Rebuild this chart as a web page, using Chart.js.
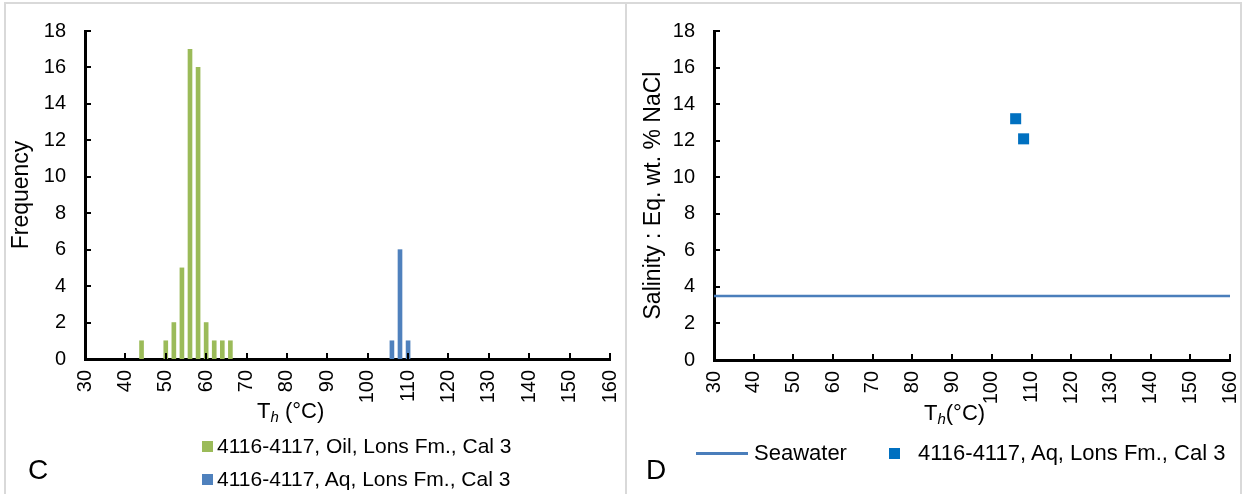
<!DOCTYPE html>
<html>
<head>
<meta charset="utf-8">
<script src="https://cdn.jsdelivr.net/npm/chart.js@4.4.1/dist/chart.umd.min.js"></script>
<style>
  body { margin: 0; width: 1244px; height: 494px; background: #fff; position: relative; overflow: hidden;
         font-family: "Liberation Sans", Arial, sans-serif; }
  .ln { position: absolute; background: #d9d9d9; }
  canvas { position: absolute; top: 0; }
  .txt { position: absolute; font-size: 21px; line-height: 20px; color: #000; white-space: nowrap; }
  .lg2 { font-size: 22px; }
  .big { font-size: 28px; line-height: 28px; }
  .sw { position: absolute; width: 11px; height: 11px; }
  sub { font-size: 15px; vertical-align: -4px; line-height: 0; }
</style>
</head>
<body>
<div class="ln" style="left:4px;top:2px;width:1238px;height:2px"></div>
<div class="ln" style="left:4px;top:2px;width:2px;height:492px"></div>
<div class="ln" style="left:625px;top:2px;width:2px;height:492px"></div>
<div class="ln" style="left:1240px;top:2px;width:2px;height:492px"></div>

<canvas id="histC" width="626" height="494" style="left:0"></canvas>
<canvas id="scatD" width="618" height="494" style="left:626px"></canvas>

<!-- panel C texts -->
<div class="txt lg2" style="left:257px;top:401px">T<sub><i>h</i></sub> (°C)</div>
<div class="sw" style="left:202px;top:441px;background:#9bbb59"></div>
<div class="txt" style="left:217px;top:436px">4116-4117, Oil, Lons Fm., Cal 3</div>
<div class="sw" style="left:202px;top:474px;background:#4f81bd"></div>
<div class="txt" style="left:217px;top:469px">4116-4117, Aq, Lons Fm., Cal 3</div>
<div class="txt big" style="left:28px;top:456px">C</div>

<!-- panel D texts -->
<div class="txt lg2" style="left:924px;top:403px">T<sub><i>h</i></sub>(°C)</div>
<div class="ln" style="left:696px;top:452px;width:52px;height:3px;background:#4a7ebb"></div>
<div class="txt lg2" style="left:754px;top:443px">Seawater</div>
<div class="sw" style="left:889px;top:448px;background:#0070c0"></div>
<div class="txt lg2" style="left:918px;top:443px">4116-4117, Aq, Lons Fm., Cal 3</div>
<div class="txt big" style="left:646px;top:456px">D</div>

<script>
// histogram C: homogenisation temperature bins and counts
const oilTemp = [44, 50, 52, 54, 56, 58, 60, 62, 64, 66];
const oilFreq = [1, 1, 2, 5, 17, 16, 2, 1, 1, 1];
const aqTemp = [106, 108, 110];
const aqFreq = [1, 6, 1];

// scatter D: salinity vs Th
const seawaterTemp = [30, 160];
const seawaterSal = [3.5, 3.5];
const incTemp = [106, 108];
const incSal = [13.2, 12.1];

const tempMin = 30, tempMax = 160, tempStep = 10;
const freqMax = 18, salMax = 18, yStep = 2;

Chart.defaults.font.family = "'Liberation Sans', Arial, sans-serif";
Chart.defaults.font.size = 20;
Chart.defaults.color = '#000';

const pts = (xs, ys) => xs.map((x, i) => ({ x: x, y: ys[i] }));

// excel-style tick marks pointing into the plot
const innerTicks = {
  id: 'innerTicks',
  afterDraw(chart) {
    const { ctx, chartArea: a, scales: { x, y } } = chart;
    ctx.save();
    ctx.strokeStyle = '#000';
    ctx.lineWidth = 2;
    ctx.beginPath();
    x.ticks.forEach(t => {
      const px = Math.round(x.getPixelForValue(t.value));
      ctx.moveTo(px, a.bottom);
      ctx.lineTo(px, a.bottom - 6);
    });
    y.ticks.forEach(t => {
      const py = Math.round(y.getPixelForValue(t.value));
      ctx.moveTo(a.left, py);
      ctx.lineTo(a.left + 6, py);
    });
    ctx.stroke();
    ctx.restore();
  }
};

function axes(yTitle, yMax, yWidth, xHeight, titlePad) {
  return {
    x: {
      type: 'linear', min: tempMin, max: tempMax, offset: false,
      grid: { display: false, drawTicks: false },
      border: { display: true, color: '#000', width: 3 },
      ticks: { stepSize: tempStep, minRotation: 90, maxRotation: 90, padding: 11 },
      afterFit(s) { s.height = xHeight; s.paddingLeft = 0; s.paddingRight = 0; }
    },
    y: {
      type: 'linear', min: 0, max: yMax,
      grid: { display: false, drawTicks: false },
      border: { display: true, color: '#000', width: 3 },
      ticks: { stepSize: yStep, padding: 19 },
      title: { display: true, text: yTitle, font: { size: 23 }, padding: { top: titlePad, bottom: 0 } },
      afterFit(s) { s.width = yWidth; }
    }
  };
}

new Chart(document.getElementById('histC'), {
  type: 'bar',
  data: {
    datasets: [
      { label: '4116-4117, Oil, Lons Fm., Cal 3', data: pts(oilTemp, oilFreq),
        backgroundColor: '#9bbb59', barThickness: 4, grouped: false },
      { label: '4116-4117, Aq, Lons Fm., Cal 3', data: pts(aqTemp, aqFreq),
        backgroundColor: '#4f81bd', barThickness: 4, grouped: false }
    ]
  },
  options: {
    responsive: false, animation: false, devicePixelRatio: 1,
    layout: { padding: { left: 0, top: 31, right: 16, bottom: 0 } },
    plugins: { legend: { display: false }, tooltip: { enabled: false } },
    scales: axes('Frequency', freqMax, 85, 135, 8)
  },
  plugins: [innerTicks]
});

new Chart(document.getElementById('scatD'), {
  type: 'scatter',
  data: {
    datasets: [
      { type: 'line', label: 'Seawater', data: pts(seawaterTemp, seawaterSal),
        borderColor: '#4a7ebb', borderWidth: 2.5, pointRadius: 0, showLine: true },
      { label: '4116-4117, Aq, Lons Fm., Cal 3', data: pts(incTemp, incSal),
        pointStyle: 'rect', pointRadius: 7.8, backgroundColor: '#0070c0', borderWidth: 0 }
    ]
  },
  options: {
    responsive: false, animation: false, devicePixelRatio: 1,
    layout: { padding: { left: 0, top: 30, right: 14, bottom: 0 } },
    plugins: { legend: { display: false }, tooltip: { enabled: false } },
    scales: axes('Salinity : Eq. wt. % NaCl', salMax, 88, 134, 14)
  },
  plugins: [innerTicks]
});
</script>
</body>
</html>
